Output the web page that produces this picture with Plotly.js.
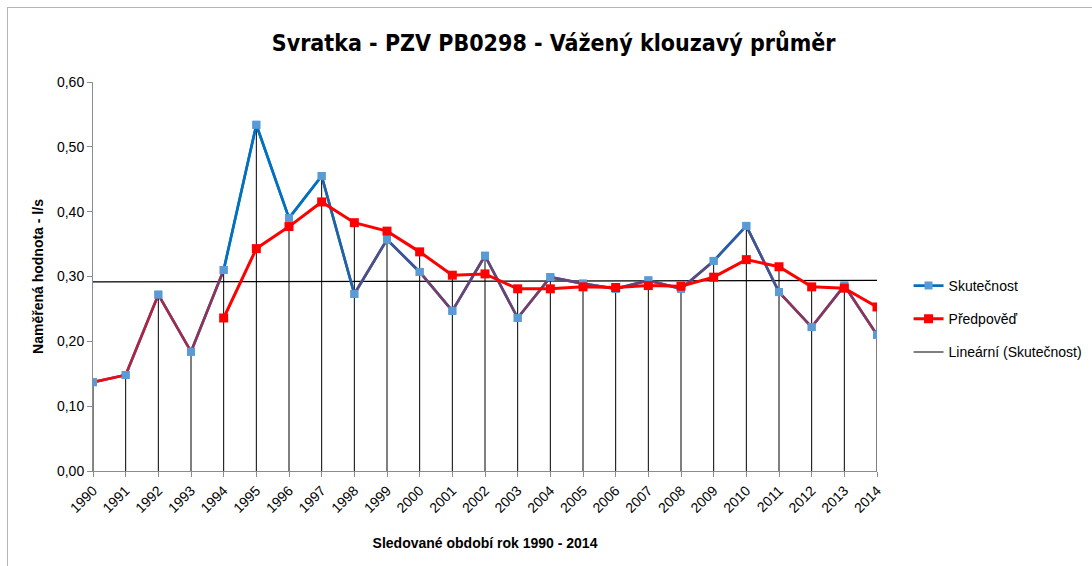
<!DOCTYPE html>
<html><head><meta charset="utf-8">
<script src="https://cdn.plot.ly/plotly-3.0.1.min.js"></script>
<style>
body{margin:0;background:#fff}
#wrap{position:relative;width:1092px;height:566px;overflow:hidden}
#chart{position:absolute;left:0;top:0;width:1092px;height:566px}
#frame{position:absolute;left:7px;top:7px;width:1200px;height:700px;border-left:1px solid #b5b5b5;border-top:1px solid #b5b5b5;pointer-events:none}
</style>
</head><body><div id="wrap"><div id="chart"></div><div id="frame"></div></div>
<script>
const years = [1990,1991,1992,1993,1994,1995,1996,1997,1998,1999,2000,2001,2002,2003,2004,2005,2006,2007,2008,2009,2010,2011,2012,2013,2014];
const skutecnost = [0.137,0.148,0.272,0.184,0.310,0.534,0.390,0.455,0.273,0.357,0.307,0.247,0.332,0.236,0.299,0.289,0.281,0.294,0.281,0.324,0.378,0.276,0.222,0.286,0.210];
const predpoved = [null,null,null,null,0.236,0.343,0.377,0.415,0.383,0.370,0.338,0.302,0.304,0.281,0.281,0.284,0.283,0.286,0.285,0.299,0.326,0.315,0.284,0.282,0.253];
const seriesNames = ['Skutečnost','Předpověď','Lineární (Skutečnost)'];
const yTicks = [0,0.1,0.2,0.3,0.4,0.5,0.6];

const FONT = 'DejaVu Sans Condensed, Liberation Sans, sans-serif';
const FONT2 = 'Liberation Sans, Arial, sans-serif';

function gradColor(v){
  let t = Math.max(0, Math.min(1, (v - 0.15) / (0.40 - 0.15)));
  const r = Math.round(240 + (0 - 240) * t);
  const g = Math.round(10 + (112 - 10) * t);
  const b = Math.round(20 + (192 - 20) * t);
  return `rgb(${r},${g},${b})`;
}

const traces = [];

// drop lines
const dx = [], dy = [];
years.forEach((yr, i) => {
  const m = Math.max(skutecnost[i], predpoved[i] == null ? -1 : predpoved[i]);
  dx.push(yr, yr, null); dy.push(0, m, null);
});
traces.push({x: dx, y: dy, mode: 'lines', line: {color: '#000', width: 1}, showlegend: false, hoverinfo: 'skip'});

// linear trend of Skutečnost
const n = years.length;
const mx = years.reduce((a, b) => a + b, 0) / n;
const my = skutecnost.reduce((a, b) => a + b, 0) / n;
let sxy = 0, sxx = 0;
years.forEach((x, i) => { sxy += (x - mx) * (skutecnost[i] - my); sxx += (x - mx) * (x - mx); });
const slope = sxy / sxx, icpt = my - slope * mx;
const tx = [years[0], years[n - 1]];
traces.push({x: tx, y: tx.map(x => icpt + slope * x), mode: 'lines', name: seriesNames[2],
  line: {color: '#000', width: 1.2}, legendrank: 3, legendgroup: 'c'});

// Skutečnost (legend + base)
traces.push({x: years, y: skutecnost, mode: 'lines+markers', name: seriesNames[0],
  line: {color: '#0a6cbc', width: 2.6}, marker: {symbol: 'square', size: 8, color: '#5b9bd5'},
  legendrank: 1, legendgroup: 'a'});
// gradient-like segments
for (let i = 0; i < n - 1; i++) {
  traces.push({x: [years[i], years[i + 1]], y: [skutecnost[i], skutecnost[i + 1]], mode: 'lines',
    line: {color: gradColor((skutecnost[i] + skutecnost[i + 1]) / 2), width: 2.6},
    showlegend: false, hoverinfo: 'skip'});
}
traces.push({x: years, y: skutecnost, mode: 'markers', marker: {symbol: 'square', size: 8, color: '#5b9bd5'},
  showlegend: false});

// Předpověď
traces.push({x: years, y: predpoved, mode: 'lines+markers', name: seriesNames[1],
  line: {color: '#ff0000', width: 3}, marker: {symbol: 'square', size: 9, color: '#ff0000'},
  legendrank: 2, legendgroup: 'b'});

const layout = {
  width: 1092, height: 566,
  margin: {l: 93, r: 215, t: 82, b: 95},
  paper_bgcolor: '#fff', plot_bgcolor: '#fff',
  separators: ', ',
  title: {text: '<b>Svratka - PZV PB0298 - Vážený klouzavý průměr</b>', x: 0.507, xref: 'container',
    y: 0.925, yref: 'container', xanchor: 'center', yanchor: 'middle',
    font: {family: FONT, size: 23, color: '#000'}},
  xaxis: {range: [1990, 2014], tickvals: years, ticktext: years.map(String), tickangle: -45,
    showgrid: false, zeroline: false, showline: true, linecolor: '#8c8c8c', linewidth: 1,
    ticks: 'outside', ticklen: 5, tickcolor: '#8c8c8c',
    tickfont: {family: FONT2, size: 14, color: '#000'},
    title: {text: '<b>Sledované období rok 1990 - 2014</b>', standoff: 23, font: {family: FONT2, size: 14, color: '#000'}}},
  yaxis: {range: [0, 0.6], tickvals: yTicks, tickformat: '.2f',
    showgrid: false, zeroline: false, showline: true, linecolor: '#8c8c8c', linewidth: 1,
    ticks: 'outside', ticklen: 5, tickcolor: '#8c8c8c',
    tickfont: {family: FONT2, size: 14, color: '#000'},
    title: {text: '<b>Naměřená hodnota - l/s</b>', standoff: 10, font: {family: FONT2, size: 14, color: '#000'}}},
  legend: {xref: 'container', yref: 'container', x: 0.832, xanchor: 'left', y: 0.523, yanchor: 'top',
    traceorder: 'grouped', tracegroupgap: 12,
    font: {family: FONT2, size: 14, color: '#000'}, bgcolor: 'rgba(0,0,0,0)'},
  showlegend: true
};

Plotly.newPlot('chart', traces, layout, {displayModeBar: false, staticPlot: true});
</script>
</body></html>
